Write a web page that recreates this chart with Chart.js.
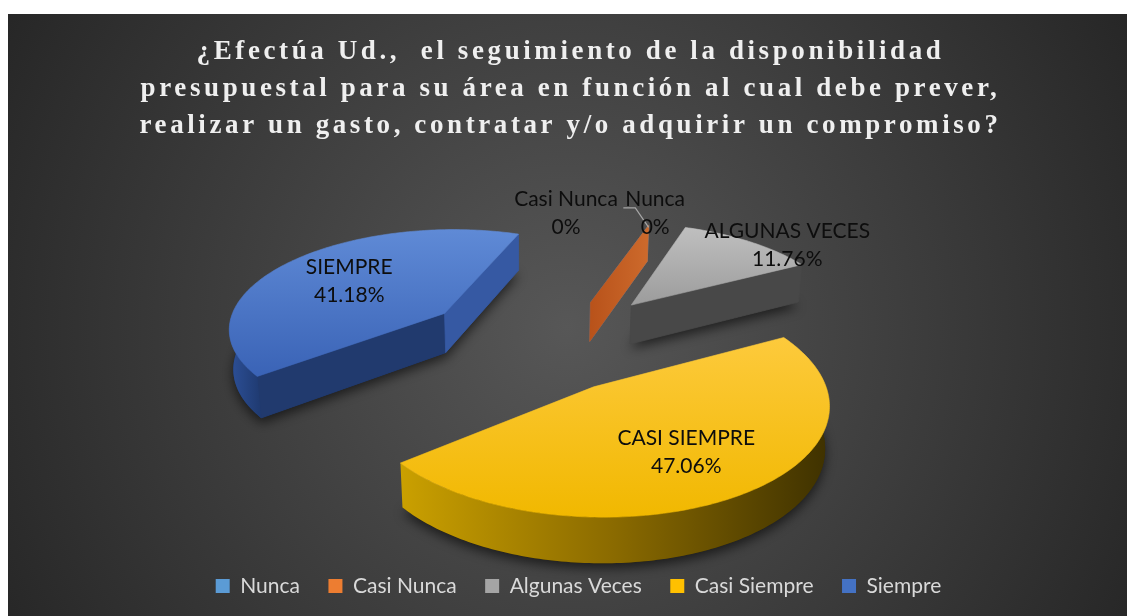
<!DOCTYPE html>
<html><head><meta charset="utf-8">
<script src="https://cdn.jsdelivr.net/npm/chart.js@4.4.1/dist/chart.umd.min.js"></script>
<style>
html,body{margin:0;padding:0;background:#fff;width:1127px;height:616px;overflow:hidden;}
#wrap{position:absolute;left:8px;top:14px;width:1119px;height:602px;}
canvas{display:block;}
</style></head><body>
<div id="wrap"><canvas id="c" width="1119" height="602" style="width:1119px;height:602px"></canvas></div>
<script>
// ---------- data ----------
const categories = ['Nunca', 'Casi Nunca', 'Algunas Veces', 'Casi Siempre', 'Siempre'];
const percentages = [0, 0, 11.76, 47.06, 41.18];
const sliceLabels = ['Nunca', 'Casi Nunca', 'ALGUNAS VECES', 'CASI SIEMPRE', 'SIEMPRE'];
const titleLines = [
  '¿Efectúa Ud.,  el seguimiento de la disponibilidad',
  'presupuestal para su área en función al cual debe prever,',
  'realizar un gasto, contratar y/o adquirir un compromiso?'
];
const seriesColors = ['#5b9bd5', '#ed7d31', '#a5a5a5', '#ffc000', '#4472c4'];

// ---------- plugins ----------
const bgPlugin = {
  id: 'bg',
  beforeDraw(chart) {
    const c = chart.ctx, w = chart.width, h = chart.height;
    const g = c.createRadialGradient(w * 0.5, h * 0.52, 0, w * 0.5, h * 0.52, 650);
    g.addColorStop(0, '#575757');
    g.addColorStop(1, '#262626');
    c.save(); c.fillStyle = g; c.fillRect(0, 0, w, h); c.restore();
  }
};

const titleSpacing = {
  id: 'titleSpacing',
  beforeDraw(chart, args, o) {
    const tb = chart.titleBlock;
    if (!tb || tb._spaced) return;
    const orig = tb.draw.bind(tb);
    tb.draw = function () {
      const c = chart.ctx;
      c.save();
      const f = tb.options.font;
      c.font = `${f.weight} ${f.size}px ${f.family}`;
      const ref = titleLines[1];
      const w = c.measureText(ref).width;
      const ls = Math.max(0, (o.targetWidth - w) / ref.length);
      c.translate(o.shiftX, 0);
      if ('letterSpacing' in c) c.letterSpacing = ls.toFixed(2) + 'px';
      orig();
      c.restore();
    };
    tb._spaced = true;
  }
};

const pie3d = {
  id: 'pie3d',
  beforeDatasetsDraw(chart, args, o) {
    const ctx = chart.ctx;
    const arcs = chart.getDatasetMeta(0).data;
    if (!arcs.length) return false;
    const R = arcs[0].outerRadius;
    const sp = o.sinPhi, cp = Math.sqrt(1 - sp * sp);
    const D = o.focal * R;
    const cx = arcs[0].x + o.shiftX, cy = arcs[0].y + o.shiftY;
    const T = o.depth;
    const P = (u, w, h) => { const d = w * cp - h * sp; const s = D / (D - d); return [cx + u * s, cy + (w * sp + h * cp) * s]; };
    const items = arcs.map((arc, i) => {
      const a1 = arc.startAngle, a2 = arc.endAngle, mid = (a1 + a2) / 2;
      const off = o.explode[i];
      const ea = mid + o.explodeAngle[i] * Math.PI / 180;
      const ex = Math.cos(ea) * off, ey = Math.sin(ea) * off;
      return { i, a1, a2, mid, ex, ey, key: P(ex, ey, 0)[1] };
    });
    chart.$pie3d = { P, R, items };
    const arcPts = (it, h, from, to) => {
      const n = Math.max(1, Math.ceil(Math.abs(to - from) / (Math.PI / 180)));
      const pts = [];
      for (let k = 0; k <= n; k++) {
        const t = from + (to - from) * k / n;
        pts.push(P(it.ex + R * Math.cos(t), it.ey + R * Math.sin(t), h));
      }
      return pts;
    };
    const poly = (pts) => { ctx.beginPath(); pts.forEach((p, k) => k ? ctx.lineTo(p[0], p[1]) : ctx.moveTo(p[0], p[1])); ctx.closePath(); };
    const bbox = (pts) => { let x0 = 1e9, y0 = 1e9, x1 = -1e9, y1 = -1e9; pts.forEach(p => { x0 = Math.min(x0, p[0]); x1 = Math.max(x1, p[0]); y0 = Math.min(y0, p[1]); y1 = Math.max(y1, p[1]); }); return { x0, y0, x1, y1 }; };
    const order = items.slice().sort((a, b) => (a.key - b.key) || (a.i - b.i));
    order.forEach(it => {
      const st = o.styles[it.i];
      const zero = (it.a2 - it.a1) < 1e-6;
      const apexT = P(it.ex, it.ey, 0), apexB = P(it.ex, it.ey, T);
      if (!zero) {
        ctx.save();
        ctx.shadowColor = 'rgba(0,0,0,0.6)'; ctx.shadowBlur = 12; ctx.shadowOffsetY = 5;
        poly([apexB, ...arcPts(it, T, it.a1, it.a2)]);
        ctx.fillStyle = st.wall[st.wall.length - 1]; ctx.fill();
        ctx.restore();
      }
      const face = (a, color) => {
        const ou = it.ex + R * Math.cos(a), ow = it.ey + R * Math.sin(a);
        const pts = [apexT, P(ou, ow, 0), P(ou, ow, T), apexB];
        poly(pts);
        let fill = color;
        if (Array.isArray(color)) {
          const b = bbox(pts);
          fill = ctx.createLinearGradient(b.x0, 0, b.x1, 0);
          fill.addColorStop(0, color[0]); fill.addColorStop(1, color[1]);
        }
        ctx.fillStyle = fill; ctx.fill();
        ctx.strokeStyle = fill; ctx.lineWidth = 0.8; ctx.stroke();
      };
      if (zero) {
        face(it.a2, st.side[1]);
      } else {
        if (Math.cos(it.a1) < 0) face(it.a1, st.side[0]);
        if (Math.cos(it.a2) > 0) face(it.a2, st.side[1]);
        for (let k = -1; k <= 1; k++) {
          const lo = Math.max(it.a1, 2 * Math.PI * k), hi = Math.min(it.a2, 2 * Math.PI * k + Math.PI);
          if (hi <= lo) continue;
          const top = arcPts(it, 0, lo, hi), bot = arcPts(it, T, hi, lo);
          const pts = [...top, ...bot];
          const b = bbox(pts);
          const g = ctx.createLinearGradient(b.x0, 0, b.x1, 0);
          st.wall.forEach((c, j) => g.addColorStop(j / (st.wall.length - 1), c));
          poly(pts); ctx.fillStyle = g; ctx.fill();
        }
        const tp = [apexT, ...arcPts(it, 0, it.a1, it.a2)];
        const b = bbox(tp);
        const g = ctx.createLinearGradient(0, b.y0, 0, b.y1);
        g.addColorStop(0, st.top[0]); g.addColorStop(1, st.top[1]);
        poly(tp); ctx.fillStyle = g; ctx.fill();
        ctx.strokeStyle = g; ctx.lineWidth = 0.6; ctx.stroke();
      }
    });
    return false;
  },
  afterDraw(chart, args, o) {
    const st = chart.$pie3d; if (!st) return;
    const { P, R, items } = st;
    const ctx = chart.ctx;
    ctx.save();
    ctx.font = `${o.labelFontSize}px ${o.labelFont}`;
    ctx.fillStyle = o.labelColor;
    ctx.textAlign = 'center';
    ctx.textBaseline = 'middle';
    const lh = o.labelLineHeight;
    items.forEach(it => {
      const L = o.labels[it.i];
      const a = it.mid + L.dAng * Math.PI / 180;
      const p = P(it.ex + L.r * R * Math.cos(a), it.ey + L.r * R * Math.sin(a), 0);
      const name = sliceLabels[it.i];
      const pct = percentages[it.i] === 0 ? '0%' : percentages[it.i].toFixed(2) + '%';
      if (L.leader) {
        const w = ctx.measureText(name).width;
        const x0 = p[0] - w / 2 - 2, y0 = p[1] - lh / 2 + 9;
        const q = P(it.ex + R * Math.cos(it.a2), it.ey + R * Math.sin(it.a2), 0);
        ctx.save();
        ctx.strokeStyle = '#a6a6a6'; ctx.lineWidth = 1.2;
        ctx.beginPath(); ctx.moveTo(x0, y0); ctx.lineTo(x0 + 12, y0); ctx.lineTo(q[0], q[1] + 2); ctx.stroke();
        ctx.restore();
      }
      ctx.fillText(name, p[0], p[1] - lh / 2);
      ctx.fillText(pct, p[0], p[1] + lh / 2);
    });
    ctx.restore();
  }
};

// ---------- chart ----------
new Chart(document.getElementById('c'), {
  type: 'pie',
  data: {
    labels: categories,
    datasets: [{
      data: percentages,
      backgroundColor: seriesColors,
      borderWidth: 0,
      rotation: 20,
      radius: 220
    }]
  },
  options: {
    responsive: false,
    devicePixelRatio: 1,
    animation: false,
    events: [],
    layout: { padding: { left: 22, right: 0, top: 0, bottom: 9.5 } },
    plugins: {
      title: {
        display: true,
        text: titleLines,
        color: '#efefef',
        font: { family: '"Liberation Serif", "Times New Roman", serif', size: 27, weight: 'bold', lineHeight: '37px' },
        padding: { top: 19.5, bottom: 0 }
      },
      legend: {
        position: 'bottom',
        labels: {
          color: '#d9d9d9',
          font: { family: 'Lato, "Open Sans", sans-serif', size: 21 },
          boxWidth: 14, boxHeight: 14, padding: 28.5
        }
      },
      tooltip: { enabled: false },
      titleSpacing: { targetWidth: 860, shiftX: -8 },
      pie3d: {
        sinPhi: 0.46, focal: 7, depth: 46, shiftX: -48, shiftY: -3.75,
        explode: [110, 110, 135, 110, 110],
        explodeAngle: [15, 15, 10.3, 0, 0],
        styles: [
          { top: ['#6fa8dc', '#5b9bd5'], wall: ['#3c74a8', '#2a5a88'], side: ['#3c74a8', '#3f79b0'] },
          { top: ['#f08a44', '#e0702a'], wall: ['#c0581a', '#a04a14'], side: ['#c65b1b', ['#b8521a', '#cd6a2c']] },
          { top: ['#bfbfbf', '#9c9c9c'], wall: ['#4a4a4a', '#3a3a3a'], side: ['#474747', '#484848'] },
          { top: ['#fdca3c', '#f1b800'], wall: ['#caa000', '#8a6a00', '#3e3100'], side: ['#a27c00', '#a27c00'] },
          { top: ['#5f8ad6', '#3a63b6'], wall: ['#2d5098', '#1f3a70'], side: ['#213a6e', '#3659a3'] }
        ],
        labelFont: 'Lato, "Open Sans", sans-serif', labelFontSize: 21, labelLineHeight: 28, labelColor: '#0d0d0d',
        labels: [
          { r: 1.178, dAng: -0.7, leader: true },
          { r: 1.107, dAng: -24.9 },
          { r: 1.107, dAng: 8.9 },
          { r: 0.643, dAng: 0 },
          { r: 0.6, dAng: 0 }
        ]
      }
    }
  },
  plugins: [bgPlugin, titleSpacing, pie3d]
});
</script>
</body></html>
